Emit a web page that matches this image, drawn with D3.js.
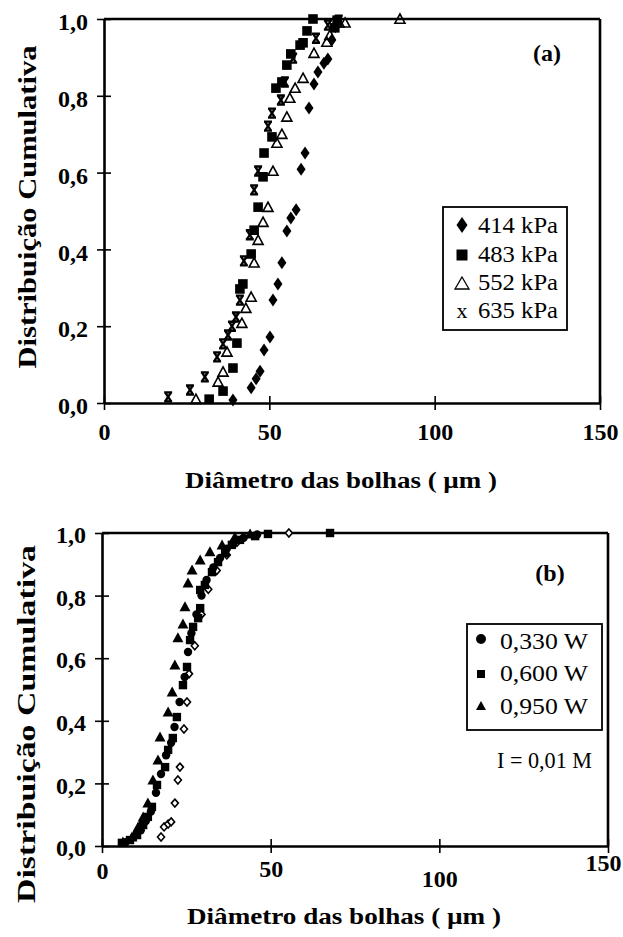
<!DOCTYPE html>
<html><head><meta charset="utf-8">
<script src="https://cdn.jsdelivr.net/npm/d3@7"></script>
<style>
body{margin:0;background:#fff}
svg{display:block}
svg text{font-family:"Liberation Serif","Times New Roman",Times,serif !important}
</style>
</head><body>
<script>
// ---------- DATA ----------
const xTicks = [0, 50, 100, 150];
const xTickLabels = ["0", "50", "100", "150"];
const yTicks = [0, 0.2, 0.4, 0.6, 0.8, 1.0];
const yTickLabels = ["0,0", "0,2", "0,4", "0,6", "0,8", "1,0"];
const xTitle = "Diâmetro das bolhas  ( µm )";
const yTitle = "Distribuição Cumulativa";

// panel (a): pressure series
const legendA = ["414 kPa", "483 kPa", "552 kPa", "635 kPa"];
const a414 = [[39.0,0.008],[44.5,0.04],[46.0,0.063],[47.2,0.083],[48.4,0.138],[50.2,0.172],[51.1,0.268],[52.6,0.31],[53.8,0.365],[55.3,0.448],[56.5,0.482],[58.1,0.503],[59.6,0.609],[60.8,0.651],[62.0,0.768],[63.5,0.831],[64.7,0.862],[66.5,0.885],[67.7,0.896],[68.9,0.945],[70.0,0.98]];
const a483 = [[31.8,0.01],[36.0,0.031],[39.0,0.091],[40.2,0.156],[41.1,0.297],[42.0,0.31],[44.5,0.388],[45.4,0.45],[46.6,0.51],[48.1,0.589],[48.4,0.651],[50.8,0.693],[52.0,0.82],[53.8,0.836],[55.3,0.88],[56.5,0.909],[59.3,0.932],[60.2,0.938],[61.4,0.969],[63.2,1.0],[69.8,0.977],[70.5,0.997]];
const a552 = [[27.8,0.01],[34.5,0.055],[36.0,0.081],[37.2,0.133],[41.7,0.208],[42.9,0.247],[44.5,0.276],[45.4,0.365],[46.6,0.424],[48.1,0.471],[49.6,0.51],[51.1,0.604],[52.3,0.677],[53.8,0.70],[55.3,0.745],[56.2,0.794],[57.8,0.82],[60.2,0.846],[63.5,0.911],[67.4,0.94],[68.3,0.958],[71.1,0.99],[72.9,0.99],[89.5,1.0]];
const a635 = [[19.4,0.016],[26.0,0.034],[30.5,0.068],[34.2,0.12],[36.0,0.154],[37.5,0.177],[38.7,0.2],[39.9,0.224],[41.1,0.268],[42.3,0.37],[44.1,0.438],[45.4,0.555],[46.6,0.604],[49.6,0.721],[50.8,0.755],[53.5,0.789],[54.7,0.836],[57.2,0.898],[64.1,0.95],[67.7,0.984],[71.0,0.997]];

// panel (b): power series
const legendB = ["0,330 W", "0,600 W", "0,950 W"];
const b330 = [[7.0,0.012],[9.5,0.03],[11.5,0.05],[13.0,0.08],[14.5,0.11],[16.0,0.17],[17.5,0.23],[19.0,0.29],[20.5,0.33],[21.5,0.38],[23.0,0.46],[24.5,0.54],[25.5,0.62],[26.5,0.68],[28.0,0.74],[29.5,0.80],[31.0,0.85],[33.0,0.89],[35.0,0.92],[37.0,0.95],[39.0,0.97],[42.0,0.985],[46.0,0.995]];
const b600 = [[5.9,0.01],[8.3,0.019],[10.4,0.035],[12.2,0.067],[13.6,0.093],[14.8,0.125],[16.3,0.195],[18.7,0.252],[19.6,0.307],[21.0,0.345],[22.2,0.412],[24.0,0.514],[25.2,0.572],[26.1,0.658],[27.0,0.70],[28.5,0.728],[29.1,0.76],[29.1,0.818],[30.5,0.834],[32.6,0.875],[34.4,0.907],[36.5,0.936],[38.5,0.962],[40.9,0.978],[45.4,0.99],[49.2,0.997],[67.6,1.0]];
const b950 = [[6.2,0.013],[8.9,0.029],[10.7,0.061],[12.2,0.093],[13.6,0.137],[15.1,0.211],[16.6,0.275],[17.2,0.348],[19.6,0.428],[20.8,0.492],[21.6,0.578],[22.5,0.665],[24.0,0.709],[24.6,0.764],[25.5,0.84],[26.7,0.882],[29.1,0.914],[32.0,0.94],[35.6,0.962],[39.4,0.987],[43.9,0.997]];
const bOpen = [[17.5,0.029],[18.4,0.061],[19.6,0.07],[20.5,0.077],[21.6,0.137],[22.5,0.211],[23.1,0.252],[24.3,0.374],[25.2,0.46],[25.8,0.55],[27.5,0.64],[29.5,0.74],[31.5,0.82],[34.0,0.88],[37.0,0.93],[40.0,0.97],[55.4,1.0]];
const noteB = "I = 0,01 M";

// ---------- LAYOUT ----------
const W = 623, H = 937;
const FONT = "Liberation Serif";
const panels = [
  {x0:104, x1:600, yb:403, yt:19, tag:"(a)", tagX:547, tagY:61,
   yTitleX:28, yTitleC:207, yTitleLen:323, xTitleX:341, xTitleY:488, xTitleLen:312,
   xLabDx:[0,0,0,0], xLabDy:[0,0,0,0], yLabDy:3},
  {x0:102, x1:608, yb:846, yt:533, tag:"(b)", tagX:550, tagY:581,
   yTitleX:27, yTitleC:724, yTitleLen:358, xTitleX:344, xTitleY:924, xTitleLen:314,
   xLabDx:[0,0,0,-5], xLabDy:[-4,-6,4,-12], yLabDy:2}
];

const svg = d3.select("body").append("svg").attr("width", W).attr("height", H);

// marker shapes
const shapes = {
  diamond: "M0,-6.5L4.5,0L0,6.5L-4.5,0Z",
  square: "M-4.8,-4.8H4.8V4.8H-4.8Z",
  sqSmall: "M-4.2,-4.2H4.2V4.2H-4.2Z",
  tri: "M0,-5L5,4.2L-5,4.2Z",
  triB: "M0,-5.5L5.5,4.5L-5.5,4.5Z",
  xmark: "M-4,-4.5H4M-4,4.5H4M-3,-4.5L3,4.5M3,-4.5L-3,4.5",
  openDia: "M0,-4L3.5,0L0,4L-3.5,0Z"
};

function drawPanel(p) {
  const g = svg.append("g");
  const x = d3.scaleLinear().domain([0,150]).range([p.x0, p.x1]);
  const y = d3.scaleLinear().domain([0,1]).range([p.yb, p.yt]);
  p.x = x; p.y = y; p.g = g;

  g.append("line").attr("x1", p.x0).attr("x2", p.x1).attr("y1", y(1)).attr("y2", y(1))
    .attr("stroke","#000").attr("stroke-width",2.6);
  g.append("line").attr("x1", p.x1).attr("x2", p.x1).attr("y1", y(1)).attr("y2", y(0))
    .attr("stroke","#000").attr("stroke-width",2.6);

  const xa = g.append("g").attr("transform", `translate(0,${p.yb})`)
    .call(d3.axisBottom(x).tickValues(xTicks).tickFormat((d,i)=>xTickLabels[i])
      .tickSizeInner(7).tickSizeOuter(0).tickPadding(13));
  xa.attr("font-family", FONT);
  xa.select(".domain").attr("stroke-width",2.6);
  xa.selectAll(".tick line").attr("y1",-7).attr("stroke-width",1.6);
  xa.selectAll(".tick text").attr("font-weight","bold")
    .attr("font-size",24).attr("fill","#000")
    .attr("transform",(d,i)=>`translate(${p.xLabDx[i]},${p.xLabDy[i]})`);

  const ya = g.append("g").attr("transform", `translate(${p.x0},0)`)
    .call(d3.axisLeft(y).tickValues(yTicks).tickFormat((d,i)=>yTickLabels[i])
      .tickSizeInner(7).tickSizeOuter(0).tickPadding(9));
  ya.attr("font-family", FONT);
  ya.select(".domain").attr("stroke-width",2.6);
  ya.selectAll(".tick line").attr("x1",7).attr("stroke-width",1.6);
  ya.selectAll(".tick text").attr("font-weight","bold")
    .attr("font-size",24).attr("fill","#000").attr("transform",`translate(0,${p.yLabDy})`);

  g.append("text").attr("x", p.xTitleX).attr("y", p.xTitleY).attr("text-anchor","middle")
    .attr("font-weight","bold").attr("font-size",24)
    .attr("textLength", p.xTitleLen).attr("lengthAdjust","spacingAndGlyphs")
    .text(xTitle);
  g.append("text").attr("transform",`translate(${p.yTitleX + 8},${p.yTitleC}) rotate(-90)`)
    .attr("text-anchor","middle")
    .attr("font-weight","bold").attr("font-size",25)
    .attr("textLength", p.yTitleLen).attr("lengthAdjust","spacingAndGlyphs")
    .text(yTitle);
  g.append("text").attr("x", p.tagX).attr("y", p.tagY).attr("text-anchor","middle")
    .attr("font-weight","bold").attr("font-size",24)
    .text(p.tag);
}

function drawMarks(p, data, shape, fill, stroke, sw) {
  p.g.append("g").selectAll("path").data(data).join("path")
    .attr("transform", d => `translate(${p.x(d[0])},${p.y(d[1])})`)
    .attr("d", shapes[shape]).attr("fill", fill).attr("stroke", stroke).attr("stroke-width", sw);
}

panels.forEach(drawPanel);
const [pA, pB] = panels;

// panel (a) marks
drawMarks(pA, a414, "diamond", "#000", "none", 0);
drawMarks(pA, a552, "tri", "none", "#000", 1.6);
drawMarks(pA, a483, "square", "#000", "none", 0);
drawMarks(pA, a635, "xmark", "none", "#000", 2.4);

// panel (b) marks
drawMarks(pB, bOpen, "openDia", "#fff", "#000", 1.6);
pB.g.append("g").selectAll("circle").data(b330).join("circle")
  .attr("cx", d => pB.x(d[0])).attr("cy", d => pB.y(d[1])).attr("r", 4.2).attr("fill","#000");
drawMarks(pB, b600, "sqSmall", "#000", "none", 0);
drawMarks(pB, b950, "triB", "#000", "none", 0);

// legend (a)
{
  const lg = svg.append("g");
  lg.append("rect").attr("x",443).attr("y",207).attr("width",124).attr("height",123)
    .attr("fill","#fff").attr("stroke","#000").attr("stroke-width",1.8);
  const rows = [225, 254, 282, 310];
  legendA.forEach((t,i) => {
    const cy = rows[i], cx = 462;
    if (i === 0) lg.append("path").attr("d","M0,-8L5.5,0L0,8L-5.5,0Z").attr("transform",`translate(${cx},${cy})`).attr("fill","#000");
    if (i === 1) lg.append("path").attr("d","M-5.5,-5.5H5.5V5.5H-5.5Z").attr("transform",`translate(${cx},${cy+1})`).attr("fill","#000");
    if (i === 2) lg.append("path").attr("d","M0,-6L7,6L-7,6Z").attr("transform",`translate(${cx},${cy+1})`).attr("fill","none").attr("stroke","#000").attr("stroke-width",1.3);
    if (i === 3) lg.append("text").attr("x",cx).attr("y",cy+8).attr("text-anchor","middle")
      .attr("font-size",22).text("x");
    lg.append("text").attr("x",478).attr("y",cy+8).attr("font-size",24)
      .attr("textLength",80).attr("lengthAdjust","spacingAndGlyphs").text(t);
  });
}

// legend (b)
{
  const lg = svg.append("g");
  lg.append("rect").attr("x",467).attr("y",624).attr("width",135).attr("height",106)
    .attr("fill","#fff").attr("stroke","#000").attr("stroke-width",1.8);
  const rows = [641, 673, 706];
  legendB.forEach((t,i) => {
    const cy = rows[i], cx = 481;
    if (i === 0) lg.append("circle").attr("cx",cx).attr("cy",cy-2).attr("r",5).attr("fill","#000");
    if (i === 1) lg.append("path").attr("d","M-4,-4H4V4H-4Z").attr("transform",`translate(${cx},${cy+1})`).attr("fill","#000");
    if (i === 2) lg.append("path").attr("d","M0,-5L5,4L-5,4Z").attr("transform",`translate(${cx},${cy})`).attr("fill","#000");
    lg.append("text").attr("x",500).attr("y",cy+8).attr("font-size",24)
      .attr("textLength",88).attr("lengthAdjust","spacingAndGlyphs").text(t);
  });
  svg.append("text").attr("x",497).attr("y",768).attr("font-size",24)
    .attr("textLength",95).attr("lengthAdjust","spacingAndGlyphs").text(noteB);
}
</script>
</body></html>
